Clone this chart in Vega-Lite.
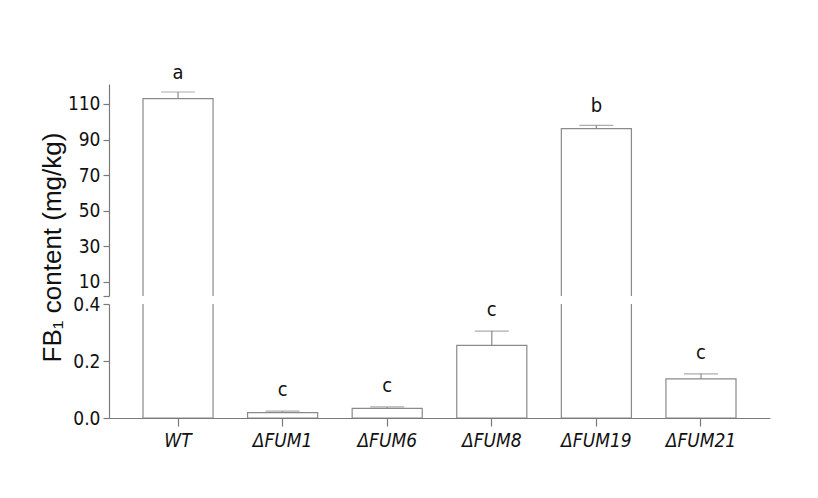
{
  "$schema": "https://vega.github.io/schema/vega-lite/v6.json",
  "background": "white",
  "padding": {"left": 38, "top": 63, "right": 10, "bottom": 10},
  "bounds": "flush",
  "datasets": {
    "fb": [
      {"strain": "WT", "mean": 113.0, "hi": 116.7, "letter": "a"},
      {"strain": "ΔFUM1", "mean": 0.019, "hi": 0.024, "letter": "c"},
      {"strain": "ΔFUM6", "mean": 0.034, "hi": 0.039, "letter": "c"},
      {"strain": "ΔFUM8", "mean": 0.255, "hi": 0.305, "letter": "c"},
      {"strain": "ΔFUM19", "mean": 96.1, "hi": 98.0, "letter": "b"},
      {"strain": "ΔFUM21", "mean": 0.137, "hi": 0.155, "letter": "c"}
    ]
  },
  "spacing": 8,
  "config": {
    "view": {"stroke": null},
    "font": "'DejaVu Sans Condensed', 'Liberation Sans', sans-serif",
    "axis": {
      "domainColor": "#7a7a7a",
      "tickColor": "#7a7a7a",
      "grid": false,
      "labelFont": "'DejaVu Sans Condensed', 'Liberation Sans', sans-serif",
      "labelFontSize": 19,
      "labelColor": "#111",
      "labelOverlap": false,
      "domainWidth": 1.2,
      "tickWidth": 1.2
    }
  },
  "vconcat": [
    {
      "width": 661,
      "height": 212,
      "data": {"name": "fb"},
      "transform": [{"filter": "datum.mean > 1"}],
      "encoding": {
        "x": {
          "field": "strain", "type": "nominal", "sort": null,
          "scale": {"domain": ["WT", "ΔFUM1", "ΔFUM6", "ΔFUM8", "ΔFUM19", "ΔFUM21"], "paddingInner": 0.33, "paddingOuter": 0.325},
          "axis": null
        }
      },
      "layer": [
        {
          "mark": {"type": "bar", "fill": "white", "stroke": "#8a8a8a", "strokeWidth": 1.2, "clip": true},
          "encoding": {
            "y": {
              "field": "mean", "type": "quantitative",
              "scale": {"domain": [2.1, 121.2], "zero": false, "nice": false},
              "axis": {
                "title": null,
                "values": [2.1, 10, 30, 50, 70, 90, 110],
                "tickCount": 20,
                "labelExpr": "datum.value < 5 ? '' : format(datum.value, 'd')",
                "labelOverlap": false,
                "labelBound": false,
                "tickSize": 6,
                "labelPadding": 3
              }
            },
            "y2": {"datum": 0}
          }
        },
        {
          "mark": {"type": "rule", "color": "#8a8a8a", "strokeWidth": 1.2, "clip": true},
          "encoding": {
            "y": {"field": "mean", "type": "quantitative"},
            "y2": {"field": "hi"}
          }
        },
        {
          "mark": {"type": "tick", "color": "#8a8a8a", "thickness": 1.2, "size": 34, "clip": true},
          "encoding": {"y": {"field": "hi", "type": "quantitative"}}
        },
        {
          "mark": {"type": "text", "baseline": "bottom", "dy": -9, "fontSize": 20, "color": "#111"},
          "encoding": {
            "y": {"field": "hi", "type": "quantitative"},
            "text": {"field": "letter"}
          }
        }
      ]
    },
    {
      "width": 661,
      "height": 114,
      "data": {"name": "fb"},
      "encoding": {
        "x": {
          "field": "strain", "type": "nominal", "sort": null,
          "scale": {"domain": ["WT", "ΔFUM1", "ΔFUM6", "ΔFUM8", "ΔFUM19", "ΔFUM21"], "paddingInner": 0.33, "paddingOuter": 0.325},
          "axis": {
            "title": null,
            "labelAngle": 0,
            "tickSize": 8,
            "labelPadding": 5,
            "labelFontStyle": "italic",
            "labelFontSize": 19
          }
        }
      },
      "layer": [
        {
          "mark": {"type": "bar", "fill": "white", "stroke": "#8a8a8a", "strokeWidth": 1.2, "clip": true},
          "encoding": {
            "y": {
              "field": "mean", "type": "quantitative",
              "scale": {"domain": [0, 0.4], "nice": false},
              "axis": {
                "title": "FB₁ content (mg/kg)",
                "titleFont": "Liberation Sans",
                "titleFontSize": 26,
                "titleFontWeight": "normal",
                "titleColor": "#111",
                "titleY": -57,
                "titleX": -44,
                "values": [0, 0.2, 0.4],
                "tickCount": 10,
                "format": ".1f",
                "tickSize": 6,
                "labelPadding": 3
              }
            },
            "y2": {"datum": 0}
          }
        },
        {
          "mark": {"type": "rule", "color": "#8a8a8a", "strokeWidth": 1.2, "clip": true},
          "encoding": {
            "y": {"field": "mean", "type": "quantitative"},
            "y2": {"field": "hi"}
          }
        },
        {
          "mark": {"type": "tick", "color": "#8a8a8a", "thickness": 1.2, "size": 34, "clip": true},
          "encoding": {"y": {"field": "hi", "type": "quantitative"}}
        },
        {
          "transform": [{"filter": "datum.mean < 1"}],
          "mark": {"type": "text", "baseline": "bottom", "dy": -11, "fontSize": 20, "color": "#111"},
          "encoding": {
            "y": {"field": "hi", "type": "quantitative"},
            "text": {"field": "letter"}
          }
        }
      ]
    }
  ]
}
